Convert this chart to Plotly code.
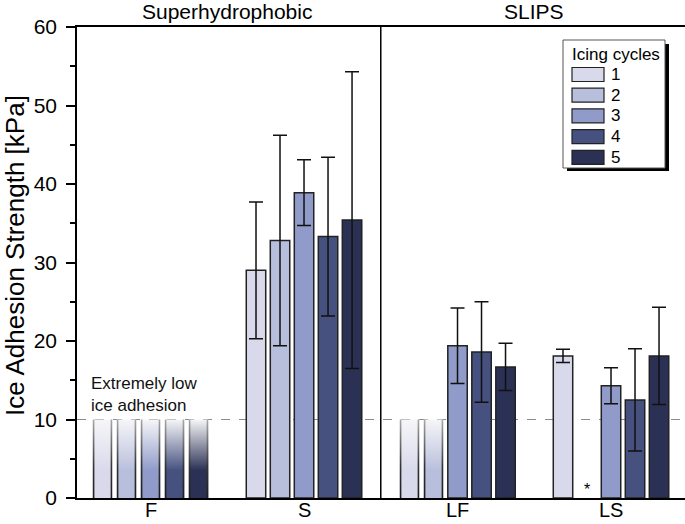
import plotly.graph_objects as go

# ---------------- data ----------------
categories = ["F", "S", "LF", "LS"]
cycles = ["1", "2", "3", "4", "5"]
# mean ice adhesion strength [kPa]; None = not a measured bar
cycle1 = [None, 29.0, None, 18.1]
cycle2 = [None, 32.8, None, None]
cycle3 = [None, 38.9, 19.4, 14.3]
cycle4 = [None, 33.3, 18.6, 12.5]
cycle5 = [None, 35.4, 16.7, 18.1]
# standard deviations
err1 = [None, 8.7, None, 0.85]
err2 = [None, 13.4, None, None]
err3 = [None, 4.2, 4.8, 2.3]
err4 = [None, 10.1, 6.4, 6.5]
err5 = [None, 18.9, 3.0, 6.2]
# samples below the "extremely low ice adhesion" limit (drawn as faded bars)
low_limit = 10
below1 = ["F", "LF"]
below2 = ["F", "LF"]
below3 = ["F"]
below4 = ["F"]
below5 = ["F"]
# missing sample marked with an asterisk
missing = ("LS", "2")
group_labels = ["Superhydrophobic", "SLIPS"]
yticks = [0, 10, 20, 30, 40, 50, 60]

values = [cycle1, cycle2, cycle3, cycle4, cycle5]
errors = [err1, err2, err3, err4, err5]
belows = [below1, below2, below3, below4, below5]

# ---------------- style ----------------
colors = ["#d8daeb", "#b8bfdc", "#909bc9", "#46517f", "#2b3154"]
FONT = "Liberation Sans, Arial, Helvetica, sans-serif"
W, H = 685, 524
L, R, T, B = 77, 0, 27, 26
bargap = 0.218
bargroupgap = 0.19
n = len(cycles)
step = (1 - bargap) / n
bw = step * (1 - bargroupgap)
xpos = {c: i for i, c in enumerate(categories)}


def px_x(px):
    return (px - L) / (W - L - R)


def px_y(py):
    return (H - B - py) / (H - T - B)


fig = go.Figure()

# measured bars
for i in range(n):
    fig.add_trace(go.Bar(
        x=list(range(len(categories))), y=values[i], name=cycles[i],
        marker=dict(color=colors[i], line=dict(color="#222222", width=1.5)),
        error_y=dict(type="data", array=errors[i], color="#111111",
                     thickness=1.5, width=7),
        showlegend=False,
    ))

# faded bars for samples below the limit
edge_w = 1.6 / 153.5
ex, ey = [], []
for i in range(n):
    xs, ys = [], []
    for cat in belows[i]:
        c = xpos[cat] + (i - (n - 1) / 2) * step
        x0, x1 = c - bw / 2, c + bw / 2
        xs += [x0, x1, x1, x0, x0, None]
        ys += [0, 0, low_limit, low_limit, 0, None]
        for a, b in ((x0, x0 + edge_w), (x1 - edge_w, x1)):
            ex += [a, b, b, a, a, None]
            ey += [0, 0, low_limit, low_limit, 0, None]
    fig.add_trace(go.Scatter(
        x=xs, y=ys, mode="lines", line=dict(width=0), fill="toself",
        fillgradient=dict(type="vertical",
                          colorscale=[[0, colors[i]], [0.35, colors[i]], [1, "#f6f6f8"]],
                          start=0, stop=low_limit),
        showlegend=False, hoverinfo="skip",
    ))
fig.add_trace(go.Scatter(
    x=ex, y=ey, mode="lines", line=dict(width=0), fill="toself",
    fillgradient=dict(type="vertical",
                      colorscale=[[0, "#1e1e1e"], [0.4, "#333333"], [1, "#a8a8a8"]],
                      start=0, stop=low_limit),
    showlegend=False, hoverinfo="skip",
))

# asterisk for the missing sample
mc = xpos[missing[0]] + (cycles.index(missing[1]) - (n - 1) / 2) * step
fig.add_annotation(x=mc, y=0, text="*", showarrow=False, yanchor="bottom",
                   yshift=-2, font=dict(size=16, color="black", family=FONT))

# dashed limit line and group divider
fig.add_shape(type="line", xref="paper", x0=0, x1=1, y0=low_limit, y1=low_limit,
              line=dict(color="#8c8c8c", width=1.2, dash="dash"), layer="below")
fig.add_shape(type="line", x0=1.5, x1=1.5, yref="paper", y0=0, y1=1,
              line=dict(color="black", width=1.5))

# group labels
for gx, lab in zip([0.5, 2.5], group_labels):
    fig.add_annotation(x=gx, y=1, yref="paper", text=lab, showarrow=False,
                       yanchor="bottom", yshift=2,
                       font=dict(size=21, color="black", family=FONT))

# category labels under the axis
for i, cat in enumerate(categories):
    fig.add_annotation(x=i, y=0, yref="paper", text=cat, showarrow=False,
                       yanchor="top", yshift=1,
                       font=dict(size=20, color="black", family=FONT))

# y-axis title
fig.add_annotation(xref="paper", yref="paper", x=px_x(15), y=px_y(256),
                   text="Ice Adhesion Strength [kPa]", textangle=-90, showarrow=False,
                   xanchor="center", yanchor="middle",
                   font=dict(size=26, color="black", family=FONT))

fig.add_annotation(x=px_x(89), xref="paper", y=low_limit, text="Extremely low<br>ice adhesion",
                   showarrow=False, xanchor="left", yanchor="bottom", align="left", yshift=3,
                   font=dict(size=17, color="#111111", family=FONT))

# manual legend
lx0, lx1, ly0, ly1 = 563, 665, 40, 168
fig.add_shape(type="rect", xref="paper", yref="paper",
              x0=px_x(lx0 + 4), x1=px_x(lx1 + 4), y0=px_y(ly1 + 3), y1=px_y(ly0 + 4),
              fillcolor="black", line=dict(width=0))
fig.add_shape(type="rect", xref="paper", yref="paper",
              x0=px_x(lx0), x1=px_x(lx1), y0=px_y(ly1), y1=px_y(ly0),
              fillcolor="white", line=dict(color="#555555", width=1))
fig.add_annotation(xref="paper", yref="paper", x=px_x(570), y=px_y(55), text="Icing cycles",
                   showarrow=False, xanchor="left", yanchor="middle",
                   font=dict(size=17, color="black", family=FONT))
for i in range(n):
    cy = 74.5 + i * 20.7
    fig.add_shape(type="rect", xref="paper", yref="paper",
                  x0=px_x(572), x1=px_x(604), y0=px_y(cy + 7), y1=px_y(cy - 7),
                  fillcolor=colors[i], line=dict(color="#222222", width=1.2))
    fig.add_annotation(xref="paper", yref="paper", x=px_x(609), y=px_y(cy), text=cycles[i],
                       showarrow=False, xanchor="left", yanchor="middle",
                       font=dict(size=17, color="black", family=FONT))

fig.update_layout(
    width=W, height=H, margin=dict(l=L, r=R, t=T, b=B, autoexpand=False),
    paper_bgcolor="white", plot_bgcolor="white",
    barmode="group", bargap=bargap, bargroupgap=bargroupgap,
    font=dict(family=FONT, color="black"),
    showlegend=False,
    xaxis=dict(range=[-0.479, 3.482], tickvals=list(range(len(categories))),
               showticklabels=False, automargin=False,
               showline=True, linecolor="black", linewidth=1.5,
               mirror=True, ticks="", showgrid=False, zeroline=False),
    yaxis=dict(range=[0, 60], tickvals=yticks, ticks="outside", ticklen=9, tickwidth=1.5,
               tickcolor="black", showline=True, linecolor="black", linewidth=1.5,
               showgrid=False, zeroline=False, automargin=False, ticklabelstandoff=5,
               minor=dict(dtick=5, ticks="outside", ticklen=5, tickwidth=1.5, tickcolor="black"),
               tickfont=dict(size=21, family=FONT, color="black")),
)

# remove the browser's default page margin so the figure starts at the window corner
fig.write_html("out.html", config={"displayModeBar": False},
               post_script="document.body.style.margin='0';document.body.style.overflow='hidden';")
